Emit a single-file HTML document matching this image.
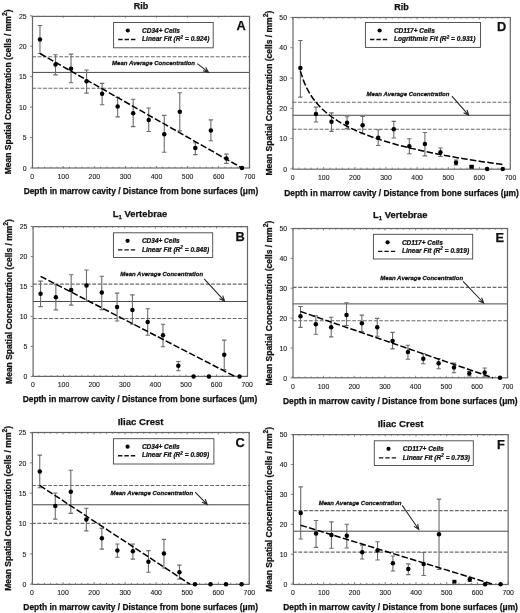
<!DOCTYPE html>
<html><head><meta charset="utf-8"><style>
html,body{margin:0;padding:0;background:#fff;}
svg{display:block;filter:blur(0.3px);}
text{font-family:"Liberation Sans", sans-serif;fill:#111;stroke:#111;stroke-width:0.25px;}
.ti{font-weight:bold;}
.yt{font-size:8.5px;font-weight:bold;}
.xt{font-size:8.4px;font-weight:bold;}
.tl{font-size:7.5px;fill:#1a1a1a;stroke:#1a1a1a;stroke-width:0.12px;}
.le{font-size:6.5px;font-weight:bold;font-style:italic;stroke-width:0.24px;}
.mac{font-size:6.0px;font-weight:bold;font-style:italic;stroke-width:0.26px;}
.le2{font-size:6.6px;}
.let{font-size:12.8px;font-weight:bold;}
.fr{fill:none;stroke:#666;stroke-width:1.2;}
.tk{fill:none;stroke:#666;stroke-width:0.8;}
.md{stroke:#6a6a6a;stroke-width:1.15;stroke-dasharray:3.8 1.6;}
.ms{stroke:#4a4a4a;stroke-width:1;}
.eb{fill:none;stroke:#6c6c6c;stroke-width:1.1;}
.fit{stroke:#000;stroke-width:1.5;stroke-dasharray:6.5 2.3;}
.lfit{stroke:#111;stroke-width:1.35;stroke-dasharray:4.4 2;}
.dot{fill:#000;}
.lg{fill:#fff;stroke:#444;stroke-width:0.9;}
.arr{fill:none;stroke:#222;stroke-width:1.05;}
.ah{fill:#333;stroke:none;}
</style></head>
<body><svg width="520" height="613" viewBox="0 0 520 613">
<rect width="520" height="613" fill="#fff"/>
<text x="140.95" y="9" text-anchor="middle" class="ti" font-size="9.0">Rib</text>
<text transform="translate(11.3,91.9) rotate(-90)" text-anchor="middle" class="yt">Mean Spatial Concentration (cells / mm<tspan font-size="6.8" dy="-4.2">2</tspan><tspan dy="4.2">)</tspan></text>
<text x="140.95" y="193.8" text-anchor="middle" class="xt">Depth in marrow cavity / Distance from bone surfaces (μm)</text>
<line x1="32.2" x2="249.7" y1="56.77" y2="56.77" class="md"/>
<line x1="32.2" x2="249.7" y1="72.42" y2="72.42" class="ms"/>
<line x1="32.2" x2="249.7" y1="88.25" y2="88.25" class="md"/>
<path d="M32.2 168v-2.0M32.2 15.8v2.0M38.41 168v-1.3M38.41 15.8v1.3M44.63 168v-1.3M44.63 15.8v1.3M50.84 168v-1.3M50.84 15.8v1.3M57.06 168v-1.3M57.06 15.8v1.3M63.27 168v-2.0M63.27 15.8v2.0M69.49 168v-1.3M69.49 15.8v1.3M75.7 168v-1.3M75.7 15.8v1.3M81.91 168v-1.3M81.91 15.8v1.3M88.13 168v-1.3M88.13 15.8v1.3M94.34 168v-2.0M94.34 15.8v2.0M100.56 168v-1.3M100.56 15.8v1.3M106.77 168v-1.3M106.77 15.8v1.3M112.99 168v-1.3M112.99 15.8v1.3M119.2 168v-1.3M119.2 15.8v1.3M125.41 168v-2.0M125.41 15.8v2.0M131.63 168v-1.3M131.63 15.8v1.3M137.84 168v-1.3M137.84 15.8v1.3M144.06 168v-1.3M144.06 15.8v1.3M150.27 168v-1.3M150.27 15.8v1.3M156.49 168v-2.0M156.49 15.8v2.0M162.7 168v-1.3M162.7 15.8v1.3M168.91 168v-1.3M168.91 15.8v1.3M175.13 168v-1.3M175.13 15.8v1.3M181.34 168v-1.3M181.34 15.8v1.3M187.56 168v-2.0M187.56 15.8v2.0M193.77 168v-1.3M193.77 15.8v1.3M199.99 168v-1.3M199.99 15.8v1.3M206.2 168v-1.3M206.2 15.8v1.3M212.41 168v-1.3M212.41 15.8v1.3M218.63 168v-2.0M218.63 15.8v2.0M224.84 168v-1.3M224.84 15.8v1.3M231.06 168v-1.3M231.06 15.8v1.3M237.27 168v-1.3M237.27 15.8v1.3M243.49 168v-1.3M243.49 15.8v1.3M249.7 168v-2.0M249.7 15.8v2.0M32.2 168h-2.2M32.2 137.56h-2.2M32.2 107.12h-2.2M32.2 76.68h-2.2M32.2 46.24h-2.2M32.2 15.8h-2.2" class="tk"/>
<rect x="32.5" y="16.4" width="217" height="151.6" class="fr"/>
<text transform="translate(32.2,178.8) scale(0.92,1)" text-anchor="middle" class="tl">0</text>
<text transform="translate(63.27,178.8) scale(0.92,1)" text-anchor="middle" class="tl">100</text>
<text transform="translate(94.34,178.8) scale(0.92,1)" text-anchor="middle" class="tl">200</text>
<text transform="translate(125.41,178.8) scale(0.92,1)" text-anchor="middle" class="tl">300</text>
<text transform="translate(156.49,178.8) scale(0.92,1)" text-anchor="middle" class="tl">400</text>
<text transform="translate(187.56,178.8) scale(0.92,1)" text-anchor="middle" class="tl">500</text>
<text transform="translate(218.63,178.8) scale(0.92,1)" text-anchor="middle" class="tl">600</text>
<text transform="translate(249.7,178.8) scale(0.92,1)" text-anchor="middle" class="tl">700</text>
<text transform="translate(26.6,170.7) scale(0.92,1)" text-anchor="end" class="tl">0</text>
<text transform="translate(26.6,140.26) scale(0.92,1)" text-anchor="end" class="tl">5</text>
<text transform="translate(26.6,109.82) scale(0.92,1)" text-anchor="end" class="tl">10</text>
<text transform="translate(26.6,79.38) scale(0.92,1)" text-anchor="end" class="tl">15</text>
<text transform="translate(26.6,48.94) scale(0.92,1)" text-anchor="end" class="tl">20</text>
<text transform="translate(26.6,18.5) scale(0.92,1)" text-anchor="end" class="tl">25</text>
<path d="M39.97 25.54V53.55M37.77 25.54h4.4M37.77 53.55h4.4M55.5 54.76V74.85M53.3 54.76h4.4M53.3 74.85h4.4M71.04 54.15V82.77M68.84 54.15h4.4M68.84 82.77h4.4M86.58 69.98V93.12M84.38 69.98h4.4M84.38 93.12h4.4M102.11 83.38V104.68M99.91 83.38h4.4M99.91 104.68h4.4M117.65 97.38V116.86M115.45 97.38h4.4M115.45 116.86h4.4M133.18 99.21V126.6M130.98 99.21h4.4M130.98 126.6h4.4M148.72 108.03V131.47M146.52 108.03h4.4M146.52 131.47h4.4M164.25 115.4V152.29M162.05 115.4h4.4M162.05 152.29h4.4M179.79 92.81V130.92M177.59 92.81h4.4M177.59 130.92h4.4M195.32 142.8V154.61M193.12 142.8h4.4M193.12 154.61h4.4M210.86 119.9V140.79M208.66 119.9h4.4M208.66 140.79h4.4M226.4 154.12V163.37M224.2 154.12h4.4M224.2 163.37h4.4" class="eb"/>
<line x1="39.97" y1="53.55" x2="241.93" y2="168" class="fit"/>
<circle cx="39.97" cy="39.54" r="2.25" class="dot"/>
<circle cx="55.5" cy="64.5" r="2.25" class="dot"/>
<circle cx="71.04" cy="68.77" r="2.25" class="dot"/>
<circle cx="86.58" cy="81.25" r="2.25" class="dot"/>
<circle cx="102.11" cy="93.73" r="2.25" class="dot"/>
<circle cx="117.65" cy="106.51" r="2.25" class="dot"/>
<circle cx="133.18" cy="113.21" r="2.25" class="dot"/>
<circle cx="148.72" cy="119.9" r="2.25" class="dot"/>
<circle cx="164.25" cy="134.21" r="2.25" class="dot"/>
<circle cx="179.79" cy="111.63" r="2.25" class="dot"/>
<circle cx="195.32" cy="148.09" r="2.25" class="dot"/>
<circle cx="210.86" cy="130.44" r="2.25" class="dot"/>
<circle cx="226.4" cy="158.5" r="2.25" class="dot"/>
<circle cx="241.93" cy="168" r="2.25" class="dot"/>
<rect x="113.6" y="22.5" width="99.6" height="25.3" class="lg"/>
<circle cx="127.8" cy="30.5" r="2.1" class="dot"/>
<line x1="118.2" x2="135.6" y1="39.5" y2="39.5" class="lfit"/>
<text x="142.1" y="32.9" class="le">CD34+ Cells</text>
<text x="142.1" y="41.2" class="le le2">Linear Fit (R<tspan font-size="4.6" dy="-2.7">2</tspan><tspan dy="2.7"> = 0.924)</tspan></text>
<text x="236.5" y="29.8" class="let">A</text>
<text x="112.1" y="65" class="mac">Mean Average Concentration</text>
<path d="M197.3 63.6L208.5 72.3M202.9 70.81L208.5 72.3L205.67 67.24" class="arr"/>
<path d="M208.5 72.3L205.22 71.07L206.49 69.43Z" class="ah"/>
<text x="401.55" y="10" text-anchor="middle" class="ti" font-size="9.0">Rib</text>
<text transform="translate(271.7,93.15) rotate(-90)" text-anchor="middle" class="yt">Mean Spatial Concentration (cells / mm<tspan font-size="6.8" dy="-4.2">2</tspan><tspan dy="4.2">)</tspan></text>
<text x="401.55" y="195.5" text-anchor="middle" class="xt">Depth in marrow cavity / Distance from bone surfaces (μm)</text>
<line x1="292.6" x2="510.5" y1="102.24" y2="102.24" class="md"/>
<line x1="292.6" x2="510.5" y1="115.27" y2="115.27" class="ms"/>
<line x1="292.6" x2="510.5" y1="129.21" y2="129.21" class="md"/>
<path d="M292.6 168.9v-2.0M292.6 17.4v2.0M298.83 168.9v-1.3M298.83 17.4v1.3M305.05 168.9v-1.3M305.05 17.4v1.3M311.28 168.9v-1.3M311.28 17.4v1.3M317.5 168.9v-1.3M317.5 17.4v1.3M323.73 168.9v-2.0M323.73 17.4v2.0M329.95 168.9v-1.3M329.95 17.4v1.3M336.18 168.9v-1.3M336.18 17.4v1.3M342.41 168.9v-1.3M342.41 17.4v1.3M348.63 168.9v-1.3M348.63 17.4v1.3M354.86 168.9v-2.0M354.86 17.4v2.0M361.08 168.9v-1.3M361.08 17.4v1.3M367.31 168.9v-1.3M367.31 17.4v1.3M373.53 168.9v-1.3M373.53 17.4v1.3M379.76 168.9v-1.3M379.76 17.4v1.3M385.99 168.9v-2.0M385.99 17.4v2.0M392.21 168.9v-1.3M392.21 17.4v1.3M398.44 168.9v-1.3M398.44 17.4v1.3M404.66 168.9v-1.3M404.66 17.4v1.3M410.89 168.9v-1.3M410.89 17.4v1.3M417.11 168.9v-2.0M417.11 17.4v2.0M423.34 168.9v-1.3M423.34 17.4v1.3M429.57 168.9v-1.3M429.57 17.4v1.3M435.79 168.9v-1.3M435.79 17.4v1.3M442.02 168.9v-1.3M442.02 17.4v1.3M448.24 168.9v-2.0M448.24 17.4v2.0M454.47 168.9v-1.3M454.47 17.4v1.3M460.69 168.9v-1.3M460.69 17.4v1.3M466.92 168.9v-1.3M466.92 17.4v1.3M473.15 168.9v-1.3M473.15 17.4v1.3M479.37 168.9v-2.0M479.37 17.4v2.0M485.6 168.9v-1.3M485.6 17.4v1.3M491.82 168.9v-1.3M491.82 17.4v1.3M498.05 168.9v-1.3M498.05 17.4v1.3M504.27 168.9v-1.3M504.27 17.4v1.3M510.5 168.9v-2.0M510.5 17.4v2.0M292.6 168.9h-2.2M292.6 138.6h-2.2M292.6 108.3h-2.2M292.6 78h-2.2M292.6 47.7h-2.2M292.6 17.4h-2.2" class="tk"/>
<rect x="293" y="17.5" width="217.3" height="151.7" class="fr"/>
<text transform="translate(292.6,179.7) scale(0.92,1)" text-anchor="middle" class="tl">0</text>
<text transform="translate(323.73,179.7) scale(0.92,1)" text-anchor="middle" class="tl">100</text>
<text transform="translate(354.86,179.7) scale(0.92,1)" text-anchor="middle" class="tl">200</text>
<text transform="translate(385.99,179.7) scale(0.92,1)" text-anchor="middle" class="tl">300</text>
<text transform="translate(417.11,179.7) scale(0.92,1)" text-anchor="middle" class="tl">400</text>
<text transform="translate(448.24,179.7) scale(0.92,1)" text-anchor="middle" class="tl">500</text>
<text transform="translate(479.37,179.7) scale(0.92,1)" text-anchor="middle" class="tl">600</text>
<text transform="translate(510.5,179.7) scale(0.92,1)" text-anchor="middle" class="tl">700</text>
<text transform="translate(287,171.6) scale(0.92,1)" text-anchor="end" class="tl">0</text>
<text transform="translate(287,141.3) scale(0.92,1)" text-anchor="end" class="tl">10</text>
<text transform="translate(287,111) scale(0.92,1)" text-anchor="end" class="tl">20</text>
<text transform="translate(287,80.7) scale(0.92,1)" text-anchor="end" class="tl">30</text>
<text transform="translate(287,50.4) scale(0.92,1)" text-anchor="end" class="tl">40</text>
<text transform="translate(287,20.1) scale(0.92,1)" text-anchor="end" class="tl">50</text>
<path d="M300.38 40.43V97.09M298.18 40.43h4.4M298.18 97.09h4.4M315.95 107.09V121.94M313.75 107.09h4.4M313.75 121.94h4.4M331.51 112.84V131.33M329.31 112.84h4.4M329.31 131.33h4.4M347.07 116.78V128.6M344.88 116.78h4.4M344.88 128.6h4.4M362.64 116.48V133.75M360.44 116.48h4.4M360.44 133.75h4.4M378.2 129.81V145.57M376 129.81h4.4M376 145.57h4.4M393.77 121.33V137.99M391.57 121.33h4.4M391.57 137.99h4.4M409.33 138.75V153.75M407.13 138.75h4.4M407.13 153.75h4.4M424.9 132.54V155.87M422.7 132.54h4.4M422.7 155.87h4.4M440.46 147.99V156.48M438.26 147.99h4.4M438.26 156.48h4.4M456.02 160.11V164.96M453.82 160.11h4.4M453.82 164.96h4.4M471.59 165.87V167.69M469.39 165.87h4.4M469.39 167.69h4.4" class="eb"/>
<polyline points="300.38,71.13 303.5,80.67 306.61,87.79 309.72,93.47 312.83,98.21 315.95,102.26 319.06,105.81 322.17,108.96 325.29,111.8 328.4,114.37 331.51,116.74 334.62,118.92 337.74,120.94 340.85,122.83 343.96,124.6 347.07,126.27 350.19,127.85 353.3,129.34 356.41,130.75 359.53,132.1 362.64,133.39 365.75,134.62 368.87,135.81 371.98,136.94 375.09,138.03 378.2,139.08 381.32,140.09 384.43,141.07 387.54,142.01 390.66,142.93 393.77,143.81 396.88,144.67 399.99,145.5 403.11,146.31 406.22,147.1 409.33,147.87 412.44,148.61 415.56,149.34 418.67,150.05 421.78,150.74 424.9,151.41 428.01,152.07 431.12,152.72 434.24,153.35 437.35,153.96 440.46,154.57 443.57,155.16 446.69,155.73 449.8,156.3 452.91,156.86 456.02,157.4 459.14,157.94 462.25,158.46 465.36,158.98 468.48,159.48 471.59,159.98 474.7,160.47 477.81,160.95 480.93,161.42 484.04,161.89 487.15,162.34 490.27,162.79 493.38,163.24 496.49,163.67 499.61,164.1 502.72,164.52" class="fit" fill="none"/>
<circle cx="300.38" cy="68" r="2.25" class="dot"/>
<circle cx="315.95" cy="114.06" r="2.25" class="dot"/>
<circle cx="331.51" cy="121.63" r="2.25" class="dot"/>
<circle cx="347.07" cy="122.84" r="2.25" class="dot"/>
<circle cx="362.64" cy="125.27" r="2.25" class="dot"/>
<circle cx="378.2" cy="137.69" r="2.25" class="dot"/>
<circle cx="393.77" cy="129.21" r="2.25" class="dot"/>
<circle cx="409.33" cy="146.18" r="2.25" class="dot"/>
<circle cx="424.9" cy="144.05" r="2.25" class="dot"/>
<circle cx="440.46" cy="152.24" r="2.25" class="dot"/>
<circle cx="456.02" cy="162.84" r="2.25" class="dot"/>
<rect x="469.39" y="164.78" width="4.4" height="4.0" class="dot"/>
<circle cx="487.15" cy="168.9" r="2.25" class="dot"/>
<circle cx="502.72" cy="168.9" r="2.25" class="dot"/>
<rect x="365.4" y="22.5" width="115.1" height="24.9" class="lg"/>
<circle cx="379.6" cy="30.5" r="2.1" class="dot"/>
<line x1="370" x2="387.4" y1="39.5" y2="39.5" class="lfit"/>
<text x="393.9" y="32.9" class="le">CD117+ Cells</text>
<text x="393.9" y="41.2" class="le le2">Logrithmic Fit (R<tspan font-size="4.6" dy="-2.7">2</tspan><tspan dy="2.7"> = 0.931)</tspan></text>
<text x="497" y="31.4" class="let">D</text>
<text x="366.6" y="96.2" class="mac">Mean Average Concentration</text>
<path d="M451.9 96.1L468.8 115.3M463.57 112.78L468.8 115.3L466.97 109.8" class="arr"/>
<path d="M468.8 115.3L465.81 113.47L467.37 112.11Z" class="ah"/>
<text x="140.05" y="216.5" text-anchor="middle" class="ti" font-size="9.4">L<tspan font-size="6" dy="2">1</tspan><tspan dy="-2"> Vertebrae</tspan></text>
<text transform="translate(12,301.5) rotate(-90)" text-anchor="middle" class="yt">Mean Spatial Concentration (cells / mm<tspan font-size="6.8" dy="-4.2">2</tspan><tspan dy="4.2">)</tspan></text>
<text x="140.05" y="401.75" text-anchor="middle" class="xt">Depth in marrow cavity / Distance from bone surfaces (μm)</text>
<line x1="32.9" x2="247.2" y1="284.1" y2="284.1" class="md"/>
<line x1="32.9" x2="247.2" y1="301.5" y2="301.5" class="ms"/>
<line x1="32.9" x2="247.2" y1="318.48" y2="318.48" class="md"/>
<path d="M32.9 376.5v-2.0M32.9 226.5v2.0M39.02 376.5v-1.3M39.02 226.5v1.3M45.15 376.5v-1.3M45.15 226.5v1.3M51.27 376.5v-1.3M51.27 226.5v1.3M57.39 376.5v-1.3M57.39 226.5v1.3M63.51 376.5v-2.0M63.51 226.5v2.0M69.64 376.5v-1.3M69.64 226.5v1.3M75.76 376.5v-1.3M75.76 226.5v1.3M81.88 376.5v-1.3M81.88 226.5v1.3M88.01 376.5v-1.3M88.01 226.5v1.3M94.13 376.5v-2.0M94.13 226.5v2.0M100.25 376.5v-1.3M100.25 226.5v1.3M106.37 376.5v-1.3M106.37 226.5v1.3M112.5 376.5v-1.3M112.5 226.5v1.3M118.62 376.5v-1.3M118.62 226.5v1.3M124.74 376.5v-2.0M124.74 226.5v2.0M130.87 376.5v-1.3M130.87 226.5v1.3M136.99 376.5v-1.3M136.99 226.5v1.3M143.11 376.5v-1.3M143.11 226.5v1.3M149.23 376.5v-1.3M149.23 226.5v1.3M155.36 376.5v-2.0M155.36 226.5v2.0M161.48 376.5v-1.3M161.48 226.5v1.3M167.6 376.5v-1.3M167.6 226.5v1.3M173.73 376.5v-1.3M173.73 226.5v1.3M179.85 376.5v-1.3M179.85 226.5v1.3M185.97 376.5v-2.0M185.97 226.5v2.0M192.09 376.5v-1.3M192.09 226.5v1.3M198.22 376.5v-1.3M198.22 226.5v1.3M204.34 376.5v-1.3M204.34 226.5v1.3M210.46 376.5v-1.3M210.46 226.5v1.3M216.59 376.5v-2.0M216.59 226.5v2.0M222.71 376.5v-1.3M222.71 226.5v1.3M228.83 376.5v-1.3M228.83 226.5v1.3M234.95 376.5v-1.3M234.95 226.5v1.3M241.08 376.5v-1.3M241.08 226.5v1.3M247.2 376.5v-2.0M247.2 226.5v2.0M32.9 376.5h-2.2M32.9 346.5h-2.2M32.9 316.5h-2.2M32.9 286.5h-2.2M32.9 256.5h-2.2M32.9 226.5h-2.2" class="tk"/>
<rect x="33.1" y="226.6" width="214.4" height="149.8" class="fr"/>
<text transform="translate(32.9,387.3) scale(0.92,1)" text-anchor="middle" class="tl">0</text>
<text transform="translate(63.51,387.3) scale(0.92,1)" text-anchor="middle" class="tl">100</text>
<text transform="translate(94.13,387.3) scale(0.92,1)" text-anchor="middle" class="tl">200</text>
<text transform="translate(124.74,387.3) scale(0.92,1)" text-anchor="middle" class="tl">300</text>
<text transform="translate(155.36,387.3) scale(0.92,1)" text-anchor="middle" class="tl">400</text>
<text transform="translate(185.97,387.3) scale(0.92,1)" text-anchor="middle" class="tl">500</text>
<text transform="translate(216.59,387.3) scale(0.92,1)" text-anchor="middle" class="tl">600</text>
<text transform="translate(247.2,387.3) scale(0.92,1)" text-anchor="middle" class="tl">700</text>
<text transform="translate(27.3,379.2) scale(0.92,1)" text-anchor="end" class="tl">0</text>
<text transform="translate(27.3,349.2) scale(0.92,1)" text-anchor="end" class="tl">5</text>
<text transform="translate(27.3,319.2) scale(0.92,1)" text-anchor="end" class="tl">10</text>
<text transform="translate(27.3,289.2) scale(0.92,1)" text-anchor="end" class="tl">15</text>
<text transform="translate(27.3,259.2) scale(0.92,1)" text-anchor="end" class="tl">20</text>
<text transform="translate(27.3,229.2) scale(0.92,1)" text-anchor="end" class="tl">25</text>
<path d="M40.55 281.1V306.6M38.35 281.1h4.4M38.35 306.6h4.4M55.86 284.7V309.9M53.66 284.7h4.4M53.66 309.9h4.4M71.17 274.8V305.1M68.97 274.8h4.4M68.97 305.1h4.4M86.47 270V301.5M84.27 270h4.4M84.27 301.5h4.4M101.78 276.3V309.6M99.58 276.3h4.4M99.58 309.6h4.4M117.09 293.1V321M114.89 293.1h4.4M114.89 321h4.4M132.4 294.9V324.3M130.2 294.9h4.4M130.2 324.3h4.4M147.7 308.7V335.28M145.5 308.7h4.4M145.5 335.28h4.4M163.01 324.3V346.8M160.81 324.3h4.4M160.81 346.8h4.4M178.32 361.5V370.68M176.12 361.5h4.4M176.12 370.68h4.4M224.24 340.08V369.6M222.04 340.08h4.4M222.04 369.6h4.4" class="eb"/>
<line x1="40.55" y1="276.3" x2="234.95" y2="376.5" class="fit"/>
<circle cx="40.55" cy="293.7" r="2.25" class="dot"/>
<circle cx="55.86" cy="297.3" r="2.25" class="dot"/>
<circle cx="71.17" cy="290.1" r="2.25" class="dot"/>
<circle cx="86.47" cy="285.6" r="2.25" class="dot"/>
<circle cx="101.78" cy="292.5" r="2.25" class="dot"/>
<circle cx="117.09" cy="307.08" r="2.25" class="dot"/>
<circle cx="132.4" cy="310.08" r="2.25" class="dot"/>
<circle cx="147.7" cy="322.02" r="2.25" class="dot"/>
<circle cx="163.01" cy="335.28" r="2.25" class="dot"/>
<circle cx="178.32" cy="365.82" r="2.25" class="dot"/>
<circle cx="193.62" cy="376.5" r="2.25" class="dot"/>
<circle cx="208.93" cy="376.5" r="2.25" class="dot"/>
<circle cx="224.24" cy="354.72" r="2.25" class="dot"/>
<circle cx="239.55" cy="376.5" r="2.25" class="dot"/>
<rect x="113.4" y="232.8" width="99.3" height="24.7" class="lg"/>
<circle cx="127.6" cy="240.8" r="2.1" class="dot"/>
<line x1="118" x2="135.4" y1="249.8" y2="249.8" class="lfit"/>
<text x="141.9" y="243.2" class="le">CD34+ Cells</text>
<text x="141.9" y="251.5" class="le le2">Linear Fit (R<tspan font-size="4.6" dy="-2.7">2</tspan><tspan dy="2.7"> = 0.848)</tspan></text>
<text x="235.6" y="241.1" class="let">B</text>
<text x="120.3" y="275.7" class="mac">Mean Average Concentration</text>
<path d="M204.2 278.8L224.6 301.1M219.33 298.68L224.6 301.1L222.66 295.63" class="arr"/>
<path d="M224.6 301.1L221.58 299.33L223.11 297.93Z" class="ah"/>
<text x="400.25" y="218" text-anchor="middle" class="ti" font-size="9.4">L<tspan font-size="6" dy="2">1</tspan><tspan dy="-2"> Vertebrae</tspan></text>
<text transform="translate(271.9,303.15) rotate(-90)" text-anchor="middle" class="yt">Mean Spatial Concentration (cells / mm<tspan font-size="6.8" dy="-4.2">2</tspan><tspan dy="4.2">)</tspan></text>
<text x="400.25" y="403.75" text-anchor="middle" class="xt">Depth in marrow cavity / Distance from bone surfaces (μm)</text>
<line x1="292.8" x2="507.7" y1="287.32" y2="287.32" class="md"/>
<line x1="292.8" x2="507.7" y1="303.9" y2="303.9" class="ms"/>
<line x1="292.8" x2="507.7" y1="320.77" y2="320.77" class="md"/>
<path d="M292.8 377.8v-2.0M292.8 228.5v2.0M298.94 377.8v-1.3M298.94 228.5v1.3M305.08 377.8v-1.3M305.08 228.5v1.3M311.22 377.8v-1.3M311.22 228.5v1.3M317.36 377.8v-1.3M317.36 228.5v1.3M323.5 377.8v-2.0M323.5 228.5v2.0M329.64 377.8v-1.3M329.64 228.5v1.3M335.78 377.8v-1.3M335.78 228.5v1.3M341.92 377.8v-1.3M341.92 228.5v1.3M348.06 377.8v-1.3M348.06 228.5v1.3M354.2 377.8v-2.0M354.2 228.5v2.0M360.34 377.8v-1.3M360.34 228.5v1.3M366.48 377.8v-1.3M366.48 228.5v1.3M372.62 377.8v-1.3M372.62 228.5v1.3M378.76 377.8v-1.3M378.76 228.5v1.3M384.9 377.8v-2.0M384.9 228.5v2.0M391.04 377.8v-1.3M391.04 228.5v1.3M397.18 377.8v-1.3M397.18 228.5v1.3M403.32 377.8v-1.3M403.32 228.5v1.3M409.46 377.8v-1.3M409.46 228.5v1.3M415.6 377.8v-2.0M415.6 228.5v2.0M421.74 377.8v-1.3M421.74 228.5v1.3M427.88 377.8v-1.3M427.88 228.5v1.3M434.02 377.8v-1.3M434.02 228.5v1.3M440.16 377.8v-1.3M440.16 228.5v1.3M446.3 377.8v-2.0M446.3 228.5v2.0M452.44 377.8v-1.3M452.44 228.5v1.3M458.58 377.8v-1.3M458.58 228.5v1.3M464.72 377.8v-1.3M464.72 228.5v1.3M470.86 377.8v-1.3M470.86 228.5v1.3M477 377.8v-2.0M477 228.5v2.0M483.14 377.8v-1.3M483.14 228.5v1.3M489.28 377.8v-1.3M489.28 228.5v1.3M495.42 377.8v-1.3M495.42 228.5v1.3M501.56 377.8v-1.3M501.56 228.5v1.3M507.7 377.8v-2.0M507.7 228.5v2.0M292.8 377.8h-2.2M292.8 347.94h-2.2M292.8 318.08h-2.2M292.8 288.22h-2.2M292.8 258.36h-2.2M292.8 228.5h-2.2" class="tk"/>
<rect x="293" y="228.5" width="214.5" height="149.3" class="fr"/>
<text transform="translate(292.8,388.6) scale(0.92,1)" text-anchor="middle" class="tl">0</text>
<text transform="translate(323.5,388.6) scale(0.92,1)" text-anchor="middle" class="tl">100</text>
<text transform="translate(354.2,388.6) scale(0.92,1)" text-anchor="middle" class="tl">200</text>
<text transform="translate(384.9,388.6) scale(0.92,1)" text-anchor="middle" class="tl">300</text>
<text transform="translate(415.6,388.6) scale(0.92,1)" text-anchor="middle" class="tl">400</text>
<text transform="translate(446.3,388.6) scale(0.92,1)" text-anchor="middle" class="tl">500</text>
<text transform="translate(477,388.6) scale(0.92,1)" text-anchor="middle" class="tl">600</text>
<text transform="translate(507.7,388.6) scale(0.92,1)" text-anchor="middle" class="tl">700</text>
<text transform="translate(287.2,380.5) scale(0.92,1)" text-anchor="end" class="tl">0</text>
<text transform="translate(287.2,350.64) scale(0.92,1)" text-anchor="end" class="tl">10</text>
<text transform="translate(287.2,320.78) scale(0.92,1)" text-anchor="end" class="tl">20</text>
<text transform="translate(287.2,290.92) scale(0.92,1)" text-anchor="end" class="tl">30</text>
<text transform="translate(287.2,261.06) scale(0.92,1)" text-anchor="end" class="tl">40</text>
<text transform="translate(287.2,231.2) scale(0.92,1)" text-anchor="end" class="tl">50</text>
<path d="M300.48 306.43V327.34M298.28 306.43h4.4M298.28 327.34h4.4M315.82 315.69V334.2M313.62 315.69h4.4M313.62 334.2h4.4M331.18 317.18V336.89M328.98 317.18h4.4M328.98 336.89h4.4M346.52 302.85V325.55M344.32 302.85h4.4M344.32 325.55h4.4M361.88 315.09V331.82M359.68 315.09h4.4M359.68 331.82h4.4M377.23 318.38V336.29M375.03 318.38h4.4M375.03 336.29h4.4M392.57 332.41V348.84M390.38 332.41h4.4M390.38 348.84h4.4M407.93 345.25V359.29M405.73 345.25h4.4M405.73 359.29h4.4M423.27 353.61V363.77M421.07 353.61h4.4M421.07 363.77h4.4M438.62 358.69V368.69M436.43 358.69h4.4M436.43 368.69h4.4M453.98 363.17V372.72M451.78 363.17h4.4M451.78 372.72h4.4M469.32 371.23V376.01M467.12 371.23h4.4M467.12 376.01h4.4M484.68 367.95V376.31M482.48 367.95h4.4M482.48 376.31h4.4" class="eb"/>
<line x1="300.48" y1="311.51" x2="492.96" y2="377.8" class="fit"/>
<circle cx="300.48" cy="316.29" r="2.25" class="dot"/>
<circle cx="315.82" cy="324.35" r="2.25" class="dot"/>
<circle cx="331.18" cy="327.34" r="2.25" class="dot"/>
<circle cx="346.52" cy="315.09" r="2.25" class="dot"/>
<circle cx="361.88" cy="323.31" r="2.25" class="dot"/>
<circle cx="377.23" cy="327.34" r="2.25" class="dot"/>
<circle cx="392.57" cy="341.07" r="2.25" class="dot"/>
<circle cx="407.93" cy="352.12" r="2.25" class="dot"/>
<circle cx="423.27" cy="358.69" r="2.25" class="dot"/>
<circle cx="438.62" cy="363.17" r="2.25" class="dot"/>
<circle cx="453.98" cy="367.5" r="2.25" class="dot"/>
<circle cx="469.32" cy="373.62" r="2.25" class="dot"/>
<circle cx="484.68" cy="372.43" r="2.25" class="dot"/>
<circle cx="500.02" cy="377.8" r="2.25" class="dot"/>
<rect x="373.4" y="234.3" width="99.3" height="24.7" class="lg"/>
<circle cx="387.6" cy="242.3" r="2.1" class="dot"/>
<line x1="378" x2="395.4" y1="251.3" y2="251.3" class="lfit"/>
<text x="401.9" y="244.7" class="le">CD117+ Cells</text>
<text x="401.9" y="253" class="le le2">Linear Fit (R<tspan font-size="4.6" dy="-2.7">2</tspan><tspan dy="2.7"> = 0.919)</tspan></text>
<text x="495.6" y="242.3" class="let">E</text>
<text x="380.3" y="279.8" class="mac">Mean Average Concentration</text>
<path d="M463.1 281.4L483.7 303M478.38 300.69L483.7 303L481.65 297.58" class="arr"/>
<path d="M483.7 303L480.64 301.29L482.14 299.87Z" class="ah"/>
<text x="140.65" y="425.3" text-anchor="middle" class="ti" font-size="9.6">Iliac Crest</text>
<text transform="translate(11.1,508.35) rotate(-90)" text-anchor="middle" class="yt">Mean Spatial Concentration (cells / mm<tspan font-size="6.8" dy="-4.2">2</tspan><tspan dy="4.2">)</tspan></text>
<text x="140.65" y="610" text-anchor="middle" class="xt">Depth in marrow cavity / Distance from bone surfaces (μm)</text>
<line x1="32" x2="249.3" y1="485.47" y2="485.47" class="md"/>
<line x1="32" x2="249.3" y1="504.77" y2="504.77" class="ms"/>
<line x1="32" x2="249.3" y1="523.34" y2="523.34" class="md"/>
<path d="M32 584.2v-2.0M32 432.5v2.0M38.21 584.2v-1.3M38.21 432.5v1.3M44.42 584.2v-1.3M44.42 432.5v1.3M50.63 584.2v-1.3M50.63 432.5v1.3M56.83 584.2v-1.3M56.83 432.5v1.3M63.04 584.2v-2.0M63.04 432.5v2.0M69.25 584.2v-1.3M69.25 432.5v1.3M75.46 584.2v-1.3M75.46 432.5v1.3M81.67 584.2v-1.3M81.67 432.5v1.3M87.88 584.2v-1.3M87.88 432.5v1.3M94.09 584.2v-2.0M94.09 432.5v2.0M100.29 584.2v-1.3M100.29 432.5v1.3M106.5 584.2v-1.3M106.5 432.5v1.3M112.71 584.2v-1.3M112.71 432.5v1.3M118.92 584.2v-1.3M118.92 432.5v1.3M125.13 584.2v-2.0M125.13 432.5v2.0M131.34 584.2v-1.3M131.34 432.5v1.3M137.55 584.2v-1.3M137.55 432.5v1.3M143.75 584.2v-1.3M143.75 432.5v1.3M149.96 584.2v-1.3M149.96 432.5v1.3M156.17 584.2v-2.0M156.17 432.5v2.0M162.38 584.2v-1.3M162.38 432.5v1.3M168.59 584.2v-1.3M168.59 432.5v1.3M174.8 584.2v-1.3M174.8 432.5v1.3M181.01 584.2v-1.3M181.01 432.5v1.3M187.21 584.2v-2.0M187.21 432.5v2.0M193.42 584.2v-1.3M193.42 432.5v1.3M199.63 584.2v-1.3M199.63 432.5v1.3M205.84 584.2v-1.3M205.84 432.5v1.3M212.05 584.2v-1.3M212.05 432.5v1.3M218.26 584.2v-2.0M218.26 432.5v2.0M224.47 584.2v-1.3M224.47 432.5v1.3M230.67 584.2v-1.3M230.67 432.5v1.3M236.88 584.2v-1.3M236.88 432.5v1.3M243.09 584.2v-1.3M243.09 432.5v1.3M249.3 584.2v-2.0M249.3 432.5v2.0M32 584.2h-2.2M32 553.86h-2.2M32 523.52h-2.2M32 493.18h-2.2M32 462.84h-2.2M32 432.5h-2.2" class="tk"/>
<rect x="32.4" y="432.5" width="216.8" height="151.9" class="fr"/>
<text transform="translate(32,595) scale(0.92,1)" text-anchor="middle" class="tl">0</text>
<text transform="translate(63.04,595) scale(0.92,1)" text-anchor="middle" class="tl">100</text>
<text transform="translate(94.09,595) scale(0.92,1)" text-anchor="middle" class="tl">200</text>
<text transform="translate(125.13,595) scale(0.92,1)" text-anchor="middle" class="tl">300</text>
<text transform="translate(156.17,595) scale(0.92,1)" text-anchor="middle" class="tl">400</text>
<text transform="translate(187.21,595) scale(0.92,1)" text-anchor="middle" class="tl">500</text>
<text transform="translate(218.26,595) scale(0.92,1)" text-anchor="middle" class="tl">600</text>
<text transform="translate(249.3,595) scale(0.92,1)" text-anchor="middle" class="tl">700</text>
<text transform="translate(26.4,586.9) scale(0.92,1)" text-anchor="end" class="tl">0</text>
<text transform="translate(26.4,556.56) scale(0.92,1)" text-anchor="end" class="tl">5</text>
<text transform="translate(26.4,526.22) scale(0.92,1)" text-anchor="end" class="tl">10</text>
<text transform="translate(26.4,495.88) scale(0.92,1)" text-anchor="end" class="tl">15</text>
<text transform="translate(26.4,465.54) scale(0.92,1)" text-anchor="end" class="tl">20</text>
<text transform="translate(26.4,435.2) scale(0.92,1)" text-anchor="end" class="tl">25</text>
<path d="M39.76 455.13V487.72M37.56 455.13h4.4M37.56 487.72h4.4M55.28 493V519.09M53.08 493h4.4M53.08 519.09h4.4M70.8 470.24V513.39M68.6 470.24h4.4M68.6 513.39h4.4M86.33 508.23V530.92M84.12 508.23h4.4M84.12 530.92h4.4M101.85 528.37V549.13M99.65 528.37h4.4M99.65 549.13h4.4M117.37 543.97V557.26M115.17 543.97h4.4M115.17 557.26h4.4M132.89 543.97V559.08M130.69 543.97h4.4M130.69 559.08h4.4M148.41 550.64V572.25M146.21 550.64h4.4M146.21 572.25h4.4M163.93 539.36V568.06M161.73 539.36h4.4M161.73 568.06h4.4M179.45 565.15V579.16M177.25 565.15h4.4M177.25 579.16h4.4" class="eb"/>
<line x1="39.76" y1="485.47" x2="190.01" y2="584.2" class="fit"/>
<circle cx="39.76" cy="471.58" r="2.25" class="dot"/>
<circle cx="55.28" cy="506.1" r="2.25" class="dot"/>
<circle cx="70.8" cy="491.66" r="2.25" class="dot"/>
<circle cx="86.33" cy="519.39" r="2.25" class="dot"/>
<circle cx="101.85" cy="538.27" r="2.25" class="dot"/>
<circle cx="117.37" cy="550.46" r="2.25" class="dot"/>
<circle cx="132.89" cy="551.25" r="2.25" class="dot"/>
<circle cx="148.41" cy="561.63" r="2.25" class="dot"/>
<circle cx="163.93" cy="553.44" r="2.25" class="dot"/>
<circle cx="179.45" cy="572.31" r="2.25" class="dot"/>
<circle cx="194.97" cy="584.2" r="2.25" class="dot"/>
<circle cx="210.5" cy="584.2" r="2.25" class="dot"/>
<circle cx="226.02" cy="584.2" r="2.25" class="dot"/>
<circle cx="241.54" cy="584.2" r="2.25" class="dot"/>
<rect x="113.4" y="438.7" width="100.5" height="25.3" class="lg"/>
<circle cx="127.6" cy="446.7" r="2.1" class="dot"/>
<line x1="118" x2="135.4" y1="455.7" y2="455.7" class="lfit"/>
<text x="141.9" y="449.1" class="le">CD34+ Cells</text>
<text x="141.9" y="457.4" class="le le2">Linear Fit (R<tspan font-size="4.6" dy="-2.7">2</tspan><tspan dy="2.7"> = 0.909)</tspan></text>
<text x="235.6" y="447.3" class="let">C</text>
<text x="110.4" y="494.6" class="mac">Mean Average Concentration</text>
<path d="M195.2 492.2L207.3 504.6M201.95 502.35L207.3 504.6L205.19 499.2" class="arr"/>
<path d="M207.3 504.6L204.22 502.93L205.71 501.48Z" class="ah"/>
<text x="400.6" y="427" text-anchor="middle" class="ti" font-size="9.6">Iliac Crest</text>
<text transform="translate(272.1,509.35) rotate(-90)" text-anchor="middle" class="yt">Mean Spatial Concentration (cells / mm<tspan font-size="6.8" dy="-4.2">2</tspan><tspan dy="4.2">)</tspan></text>
<text x="400.6" y="610" text-anchor="middle" class="xt">Depth in marrow cavity / Distance from bone surfaces (μm)</text>
<line x1="293" x2="508.2" y1="510.55" y2="510.55" class="md"/>
<line x1="293" x2="508.2" y1="531.21" y2="531.21" class="ms"/>
<line x1="293" x2="508.2" y1="552.16" y2="552.16" class="md"/>
<path d="M293 584.2v-2.0M293 434.5v2.0M299.15 584.2v-1.3M299.15 434.5v1.3M305.3 584.2v-1.3M305.3 434.5v1.3M311.45 584.2v-1.3M311.45 434.5v1.3M317.59 584.2v-1.3M317.59 434.5v1.3M323.74 584.2v-2.0M323.74 434.5v2.0M329.89 584.2v-1.3M329.89 434.5v1.3M336.04 584.2v-1.3M336.04 434.5v1.3M342.19 584.2v-1.3M342.19 434.5v1.3M348.34 584.2v-1.3M348.34 434.5v1.3M354.49 584.2v-2.0M354.49 434.5v2.0M360.63 584.2v-1.3M360.63 434.5v1.3M366.78 584.2v-1.3M366.78 434.5v1.3M372.93 584.2v-1.3M372.93 434.5v1.3M379.08 584.2v-1.3M379.08 434.5v1.3M385.23 584.2v-2.0M385.23 434.5v2.0M391.38 584.2v-1.3M391.38 434.5v1.3M397.53 584.2v-1.3M397.53 434.5v1.3M403.67 584.2v-1.3M403.67 434.5v1.3M409.82 584.2v-1.3M409.82 434.5v1.3M415.97 584.2v-2.0M415.97 434.5v2.0M422.12 584.2v-1.3M422.12 434.5v1.3M428.27 584.2v-1.3M428.27 434.5v1.3M434.42 584.2v-1.3M434.42 434.5v1.3M440.57 584.2v-1.3M440.57 434.5v1.3M446.71 584.2v-2.0M446.71 434.5v2.0M452.86 584.2v-1.3M452.86 434.5v1.3M459.01 584.2v-1.3M459.01 434.5v1.3M465.16 584.2v-1.3M465.16 434.5v1.3M471.31 584.2v-1.3M471.31 434.5v1.3M477.46 584.2v-2.0M477.46 434.5v2.0M483.61 584.2v-1.3M483.61 434.5v1.3M489.75 584.2v-1.3M489.75 434.5v1.3M495.9 584.2v-1.3M495.9 434.5v1.3M502.05 584.2v-1.3M502.05 434.5v1.3M508.2 584.2v-2.0M508.2 434.5v2.0M293 584.2h-2.2M293 554.26h-2.2M293 524.32h-2.2M293 494.38h-2.2M293 464.44h-2.2M293 434.5h-2.2" class="tk"/>
<rect x="293.4" y="434.6" width="214.75" height="149.9" class="fr"/>
<text transform="translate(293,595) scale(0.92,1)" text-anchor="middle" class="tl">0</text>
<text transform="translate(323.74,595) scale(0.92,1)" text-anchor="middle" class="tl">100</text>
<text transform="translate(354.49,595) scale(0.92,1)" text-anchor="middle" class="tl">200</text>
<text transform="translate(385.23,595) scale(0.92,1)" text-anchor="middle" class="tl">300</text>
<text transform="translate(415.97,595) scale(0.92,1)" text-anchor="middle" class="tl">400</text>
<text transform="translate(446.71,595) scale(0.92,1)" text-anchor="middle" class="tl">500</text>
<text transform="translate(477.46,595) scale(0.92,1)" text-anchor="middle" class="tl">600</text>
<text transform="translate(508.2,595) scale(0.92,1)" text-anchor="middle" class="tl">700</text>
<text transform="translate(287.4,586.9) scale(0.92,1)" text-anchor="end" class="tl">0</text>
<text transform="translate(287.4,556.96) scale(0.92,1)" text-anchor="end" class="tl">10</text>
<text transform="translate(287.4,527.02) scale(0.92,1)" text-anchor="end" class="tl">20</text>
<text transform="translate(287.4,497.08) scale(0.92,1)" text-anchor="end" class="tl">30</text>
<text transform="translate(287.4,467.14) scale(0.92,1)" text-anchor="end" class="tl">40</text>
<text transform="translate(287.4,437.2) scale(0.92,1)" text-anchor="end" class="tl">50</text>
<path d="M300.69 486.89V538.99M298.49 486.89h4.4M298.49 538.99h4.4M316.06 520.43V547.37M313.86 520.43h4.4M313.86 547.37h4.4M331.43 521.92V548.27M329.23 521.92h4.4M329.23 548.27h4.4M346.8 524.32V547.97M344.6 524.32h4.4M344.6 547.97h4.4M362.17 545.28V559.05M359.97 545.28h4.4M359.97 559.05h4.4M377.54 541.69V559.95M375.34 541.69h4.4M375.34 559.95h4.4M392.91 556.06V571.03M390.71 556.06h4.4M390.71 571.03h4.4M408.29 563.84V574.62M406.09 563.84h4.4M406.09 574.62h4.4M423.66 552.46V575.52M421.46 552.46h4.4M421.46 575.52h4.4M439.03 499.17V569.53M436.83 499.17h4.4M436.83 569.53h4.4M454.4 580.91V582.55M452.2 580.91h4.4M452.2 582.55h4.4M469.77 577.31V581.51M467.57 577.31h4.4M467.57 581.51h4.4" class="eb"/>
<line x1="300.69" y1="525.22" x2="492.83" y2="584.2" class="fit"/>
<circle cx="300.69" cy="512.94" r="2.25" class="dot"/>
<circle cx="316.06" cy="533.6" r="2.25" class="dot"/>
<circle cx="331.43" cy="534.95" r="2.25" class="dot"/>
<circle cx="346.8" cy="535.7" r="2.25" class="dot"/>
<circle cx="362.17" cy="552.16" r="2.25" class="dot"/>
<circle cx="377.54" cy="550.52" r="2.25" class="dot"/>
<circle cx="392.91" cy="563.24" r="2.25" class="dot"/>
<circle cx="408.29" cy="569.11" r="2.25" class="dot"/>
<circle cx="423.66" cy="564.02" r="2.25" class="dot"/>
<circle cx="439.03" cy="534.2" r="2.25" class="dot"/>
<rect x="452.5" y="579.81" width="3.8" height="3.8" class="dot"/>
<circle cx="469.77" cy="579.5" r="2.25" class="dot"/>
<circle cx="485.14" cy="584.2" r="2.25" class="dot"/>
<circle cx="500.51" cy="584.2" r="2.25" class="dot"/>
<rect x="374.3" y="440.8" width="99" height="24.7" class="lg"/>
<circle cx="388.5" cy="448.8" r="2.1" class="dot"/>
<line x1="378.9" x2="396.3" y1="457.8" y2="457.8" class="lfit"/>
<text x="402.8" y="451.2" class="le">CD117+ Cells</text>
<text x="402.8" y="459.5" class="le le2">Linear Fit (R<tspan font-size="4.6" dy="-2.7">2</tspan><tspan dy="2.7"> = 0.753)</tspan></text>
<text x="497.1" y="448.8" class="let">F</text>
<text x="318.7" y="504.9" class="mac">Mean Average Concentration</text>
<path d="M402.2 505.4L418.8 529.5M413.91 526.38L418.8 529.5L417.63 523.82" class="arr"/>
<path d="M418.8 529.5L416.05 527.33L417.76 526.16Z" class="ah"/>
</svg></body></html>
